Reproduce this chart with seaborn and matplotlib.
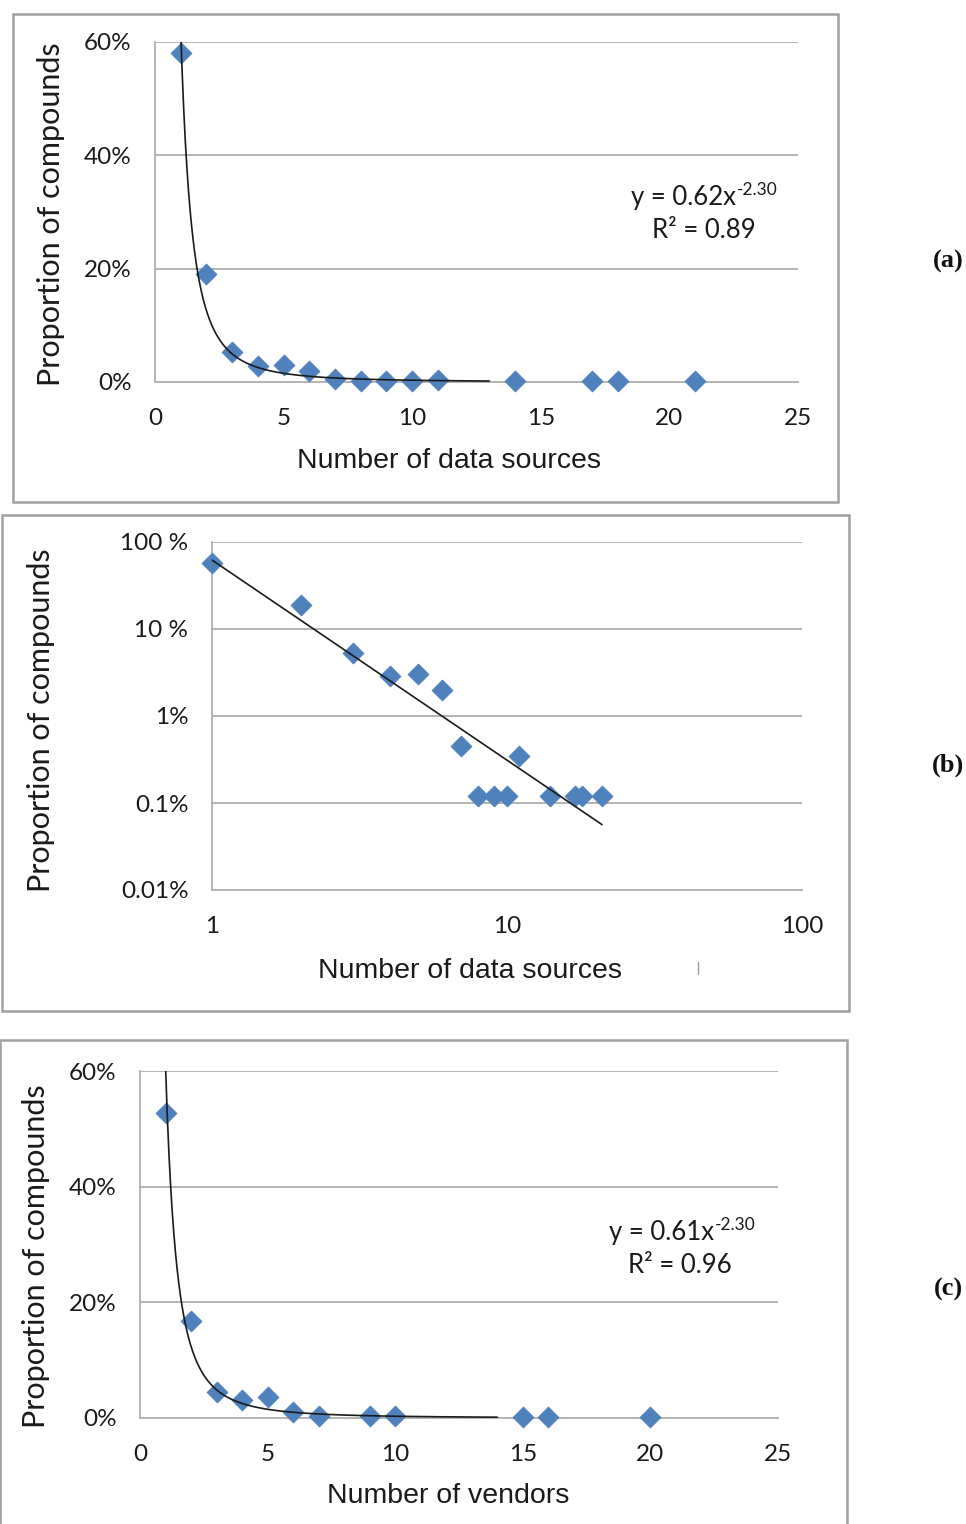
import numpy as np
import pandas as pd
import matplotlib
matplotlib.use("Agg")
import matplotlib.pyplot as plt
import seaborn as sns
from matplotlib.patches import Rectangle
from matplotlib.lines import Line2D
from matplotlib.ticker import FixedLocator, FixedFormatter, NullLocator

# ---------------- data ----------------
sources_n = [1, 2, 3, 4, 5, 6, 7, 8, 9, 10, 11, 14, 17, 18, 21]
sources_share = [0.58, 0.19, 0.053, 0.029, 0.030, 0.020, 0.0045, 0.0012, 0.0012,
                 0.0012, 0.0035, 0.0012, 0.0012, 0.0012, 0.0012]

vendors_n = [1, 2, 3, 4, 5, 6, 7, 9, 10, 15, 16, 20]
vendors_share = [0.527, 0.168, 0.045, 0.031, 0.036, 0.010, 0.003, 0.003, 0.003,
                 0.001, 0.001, 0.001]

fit_sources_coef, fit_sources_exp, fit_sources_r2 = 0.62, -2.30, 0.89
fit_vendors_coef, fit_vendors_exp, fit_vendors_r2 = 0.61, -2.30, 0.96
trend_range_a = (1, 13)
trend_range_b = (1, 21)
trend_range_c = (1, 14)

lin_xticks = [0, 5, 10, 15, 20, 25]
lin_yticks = [0, 0.2, 0.4, 0.6]
lin_ylabels = ["0%", "20%", "40%", "60%"]
log_xticks = [1, 10, 100]
log_xlabels = ["1", "10", "100"]
log_yticks = [0.0001, 0.001, 0.01, 0.1, 1.0]
log_ylabels = ["0.01%", "0.1%", "1%", "10 %", "100 %"]

# ---------------- style ----------------
sns.set_style("white")
plt.rcParams["font.family"] = ["Lato", "DejaVu Sans"]

W, H = 966, 1524
fig = plt.figure(figsize=(W / 100, H / 100), dpi=100)
fig.patch.set_facecolor("white")

def fx(px):
    return px / W

def fy(py):
    return 1 - py / H

def ax_rect(x0, y0, x1, y1):
    return [fx(x0), fy(y1), (x1 - x0) / W, (y1 - y0) / H]

MARKER = "#4F81BD"
GRID = "#b4b4b4"
TXT = "#1a1a1a"
TICK_FS = 17.5
XLAB_FONT = "Liberation Sans"

def style(ax):
    for s in ["top", "right"]:
        ax.spines[s].set_visible(False)
    for s in ["left", "bottom"]:
        ax.spines[s].set_color(GRID)
        ax.spines[s].set_linewidth(1.4)
    ax.grid(axis="y", color=GRID, linewidth=1.4)
    ax.grid(axis="x", visible=False)
    ax.tick_params(axis="both", which="major", direction="out", length=6,
                   width=1.4, color=GRID, labelsize=TICK_FS, labelcolor=TXT, pad=11)
    ax.tick_params(axis="x", pad=13)
    ax.set_axisbelow(True)
    ax.set_facecolor("white")

def panel_box(x0, y0, x1, y1):
    fig.add_artist(Rectangle((fx(x0), fy(y1)), (x1 - x0) / W, (y1 - y0) / H,
                             transform=fig.transFigure, fill=False,
                             edgecolor="#a0a0a0", linewidth=1.8))

def scatter(ax, xs, ys):
    df = pd.DataFrame({"n": xs, "share": ys})
    sns.scatterplot(data=df, x="n", y="share", ax=ax, marker="D", s=115,
                    color=MARKER, edgecolor=MARKER, linewidth=0.5, zorder=3,
                    clip_on=False)

def trend(ax, coef, expo, rng, log=False):
    xs = np.geomspace(rng[0], rng[1], 300) if log else np.linspace(rng[0], rng[1], 600)
    df = pd.DataFrame({"n": xs, "fit": coef * xs ** expo})
    sns.lineplot(data=df, x="n", y="fit", ax=ax, color="#1a1a1a", linewidth=1.2,
                 zorder=4)

def ylabel_at(ax, cx, cy):
    ax.set_ylabel("Proportion of compounds", fontsize=22, color=TXT)
    ax.yaxis.label.set_rotation_mode("default")
    ax.yaxis.label.set_verticalalignment("center")
    ax.yaxis.label.set_horizontalalignment("center")
    bb = ax.get_position()
    ax.yaxis.set_label_coords((fx(cx) - bb.x0) / bb.width, (fy(cy) - bb.y0) / bb.height)

def xlabel_at(ax, text, cx, cy):
    ax.set_xlabel(text, fontsize=20.5, color=TXT, family=XLAB_FONT)
    ax.xaxis.label.set_verticalalignment("center")
    bb = ax.get_position()
    ax.xaxis.set_label_coords((fx(cx) - bb.x0) / bb.width, (fy(cy) - bb.y0) / bb.height)

def equation(ax, coef, expo, r2, x_end, y_base, r2_cx):
    ax.text(fx(x_end), fy(y_base), "y = %.2fx" % coef, transform=fig.transFigure,
            ha="right", va="baseline", fontsize=18.5, color=TXT)
    ax.text(fx(x_end + 1), fy(y_base - 10), "%.2f" % expo, transform=fig.transFigure,
            ha="left", va="baseline", fontsize=12.5, color=TXT)
    ax.text(fx(r2_cx), fy(y_base + 33), "R² = %.2f" % r2, transform=fig.transFigure,
            ha="center", va="baseline", fontsize=18.5, color=TXT)

def panel_label(text, cy):
    fig.text(fx(948), fy(cy), text, ha="center", va="center", fontsize=19,
             fontweight="bold", family="Liberation Serif", color="#111111")

# ---------------- panel (a) ----------------
panel_box(13, 14, 838, 502)
axa = fig.add_axes(ax_rect(155, 42, 798, 382))
style(axa)
trend(axa, fit_sources_coef, fit_sources_exp, trend_range_a)
scatter(axa, sources_n, sources_share)
axa.set_xlim(0, 25)
axa.set_ylim(0, 0.6)
axa.xaxis.set_major_locator(FixedLocator(lin_xticks))
axa.yaxis.set_major_locator(FixedLocator(lin_yticks))
axa.yaxis.set_major_formatter(FixedFormatter(lin_ylabels))
ylabel_at(axa, 51, 214)
xlabel_at(axa, "Number of data sources", 449, 461)
equation(axa, fit_sources_coef, fit_sources_exp, fit_sources_r2, 736, 205, 704)
panel_label("(a)", 261)

# ---------------- panel (b) ----------------
panel_box(2, 515, 849, 1011)
axb = fig.add_axes(ax_rect(212, 542, 802, 890))
style(axb)
axb.set_xscale("log")
axb.set_yscale("log")
trend(axb, fit_sources_coef, fit_sources_exp, trend_range_b, log=True)
scatter(axb, sources_n, sources_share)
axb.set_xlim(1, 100)
axb.set_ylim(1e-4, 1.0)
axb.xaxis.set_major_locator(FixedLocator(log_xticks))
axb.xaxis.set_major_formatter(FixedFormatter(log_xlabels))
axb.xaxis.set_minor_locator(NullLocator())
axb.yaxis.set_major_locator(FixedLocator(log_yticks))
axb.yaxis.set_major_formatter(FixedFormatter(log_ylabels))
axb.yaxis.set_minor_locator(NullLocator())
ylabel_at(axb, 41, 720)
xlabel_at(axb, "Number of data sources", 470, 971)
fig.add_artist(Line2D([fx(698), fx(698)], [fy(962), fy(974)], transform=fig.transFigure,
                      color="#9a9a9a", linewidth=1.0))
panel_label("(b)", 765)

# ---------------- panel (c) ----------------
panel_box(0, 1040, 847, 1530)
axc = fig.add_axes(ax_rect(140, 1071, 778, 1418))
style(axc)
trend(axc, fit_vendors_coef, fit_vendors_exp, trend_range_c)
scatter(axc, vendors_n, vendors_share)
axc.set_xlim(0, 25)
axc.set_ylim(0, 0.6)
axc.xaxis.set_major_locator(FixedLocator(lin_xticks))
axc.yaxis.set_major_locator(FixedLocator(lin_yticks))
axc.yaxis.set_major_formatter(FixedFormatter(lin_ylabels))
ylabel_at(axc, 36, 1256)
xlabel_at(axc, "Number of vendors", 448, 1496)
equation(axc, fit_vendors_coef, fit_vendors_exp, fit_vendors_r2, 714, 1240, 680)
panel_label("(c)", 1289)

fig.savefig("out.png", dpi=100, facecolor="white")
